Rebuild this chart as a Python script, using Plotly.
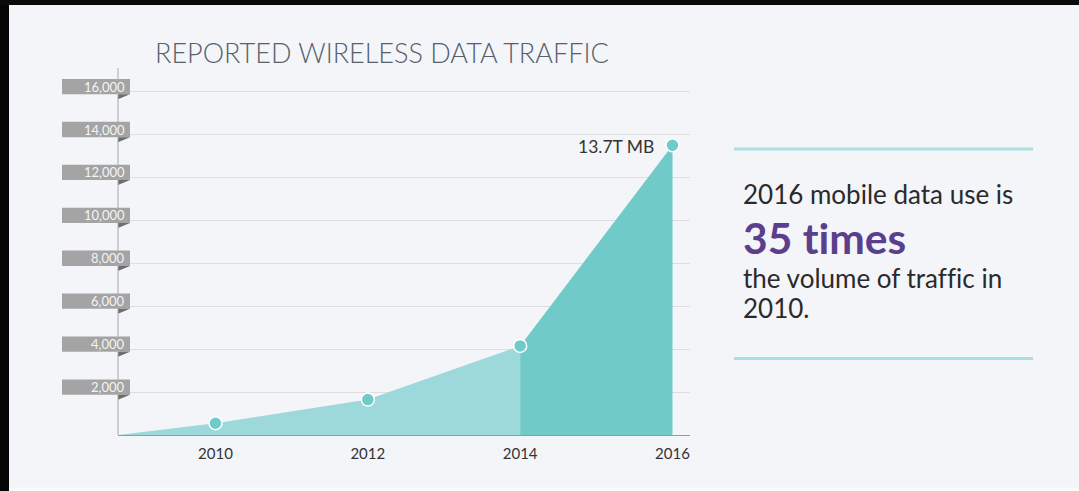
import plotly.graph_objects as go

# ---- data ----
start_year = 2008.72
years = [2010, 2012, 2014, 2016]
traffic = [550, 1650, 4150, 13500]          # reported wireless data traffic
y_ticks = [2000, 4000, 6000, 8000, 10000, 12000, 14000, 16000]
y_tick_labels = ["2,000", "4,000", "6,000", "8,000", "10,000", "12,000", "14,000", "16,000"]
x_tick_labels = ["2010", "2012", "2014", "2016"]
peak_label = "13.7T MB"
title_text = "REPORTED WIRELESS DATA TRAFFIC"
side_lines = ["2016 mobile data use is", "35 t\u200cimes", "the volume of traf\u200cf\u200cic in", "2010."]

W, H = 1079, 491
L, R, T, B = 118, 690, 68, 435
PW, PH = R - L, B - T

def px(x):
    return (x - L) / PW

def py(y):
    return (B - y) / PH

BG = "#f4f5f9"
LIGHT = "#9dd8da"
DARK = "#6fcac8"
FONT = "Lato"

fig = go.Figure()

# light area up to 2014
split = years.index(2014)
fig.add_trace(go.Scatter(
    x=[start_year] + years[:split + 1], y=[0] + traffic[:split + 1],
    fill="tozeroy", fillcolor=LIGHT, mode="lines", line=dict(width=0, color=LIGHT),
    hoverinfo="skip", showlegend=False))
# dark area 2014-2016
fig.add_trace(go.Scatter(
    x=years[split:], y=traffic[split:],
    fill="tozeroy", fillcolor=DARK, mode="lines", line=dict(width=0, color=DARK),
    hoverinfo="skip", showlegend=False))
# markers
fig.add_trace(go.Scatter(
    x=years, y=traffic, mode="markers",
    marker=dict(size=13, color=DARK, line=dict(color="white", width=1.5)),
    showlegend=False))

shapes = []
annotations = []

# y tick tags
for v, lab in zip(y_ticks, y_tick_labels):
    shapes.append(dict(type="rect", xref="paper", yref="y", ysizemode="pixel", yanchor=v,
                       x0=px(62), x1=px(130), y0=-2.6, y1=12.7,
                       fillcolor="#a4a4a4", line=dict(width=0)))
    shapes.append(dict(type="path", xref="paper", yref="y", ysizemode="pixel", yanchor=v,
                       path=f"M{px(118)},-2.6 L{px(130)},-2.6 L{px(118)},-7.6 Z",
                       fillcolor="#6e6e6e", line=dict(width=0)))
    annotations.append(dict(xref="paper", yref="y", x=px(127), y=v, yshift=5,
                            text=lab, showarrow=False, xanchor="right", yanchor="middle",
                            font=dict(family=FONT, size=13, color="#f4f4f4")))

# y axis line extending
shapes.append(dict(type="line", xref="paper", yref="paper", x0=0, x1=0, y0=0, y1=1,
                   line=dict(color="#a8a8a8", width=1)))

# peak label
annotations.append(dict(x=years[-1], y=traffic[-1], xref="x", yref="y", text=peak_label,
                        showarrow=False, xanchor="right", yanchor="middle", xshift=-16, yshift=-1,
                        font=dict(family=FONT, size=17.5, color="#333333")))

# title
annotations.append(dict(xref="paper", yref="paper", x=px(153), y=py(53), text=title_text,
                        showarrow=False, xanchor="left", yanchor="middle",
                        font=dict(family=FONT, size=27, color="#56616c", weight=300)))

# right panel
for yy in (149, 358.5):
    shapes.append(dict(type="line", xref="paper", yref="paper", x0=px(734), x1=px(1033),
                       y0=py(yy), y1=py(yy), line=dict(color="#a9dfe0", width=3)))
side_y = [194, 237, 278, 308]
side_size = [26, 42.5, 26, 26]
side_col = ["#2a2a2a", "#5b3f8c", "#2a2a2a", "#2a2a2a"]
side_w = [400, 700, 400, 400]
for t, yy, s, c, w in zip(side_lines, side_y, side_size, side_col, side_w):
    annotations.append(dict(xref="paper", yref="paper", x=px(741), y=py(yy), text=t,
                            showarrow=False, xanchor="left", yanchor="middle",
                            font=dict(family=FONT, size=s, color=c, weight=w)))

# black frame edges
shapes.append(dict(type="rect", xref="paper", yref="paper", x0=px(-5), x1=px(9),
                   y0=py(H + 5), y1=py(-5), fillcolor="#050505", line=dict(width=0)))
shapes.append(dict(type="rect", xref="paper", yref="paper", x0=px(-5), x1=px(W + 5),
                   y0=py(5), y1=py(-5), fillcolor="#0a0a0a", line=dict(width=0)))
shapes.append(dict(type="rect", xref="paper", yref="paper", x0=px(9), x1=px(W + 5),
                   y0=py(H + 5), y1=py(487.5), fillcolor="#fbfbfc", line=dict(width=0)))

fig.update_layout(
    width=W, height=H,
    margin=dict(l=L, r=W - R, t=T, b=H - B, pad=0),
    paper_bgcolor=BG, plot_bgcolor=BG,
    shapes=shapes, annotations=annotations,
    xaxis=dict(range=[start_year, 2016.23], tickvals=years, ticktext=x_tick_labels,
               showgrid=False, zeroline=False, showline=True, linecolor="#9a9a9a", linewidth=1,
               ticks="", ticklabelstandoff=5,
               tickfont=dict(family=FONT, size=15, color="#333333"), fixedrange=True),
    yaxis=dict(range=[0, 17100], tickvals=y_ticks, showticklabels=False,
               showgrid=True, gridcolor="#dedede", gridwidth=1, zeroline=False,
               showline=False, ticks="", fixedrange=True),
    showlegend=False,
)

fig.write_html("out.html", config={"displayModeBar": False},
               post_script="document.body.style.margin='0';document.body.style.overflow='hidden';")
